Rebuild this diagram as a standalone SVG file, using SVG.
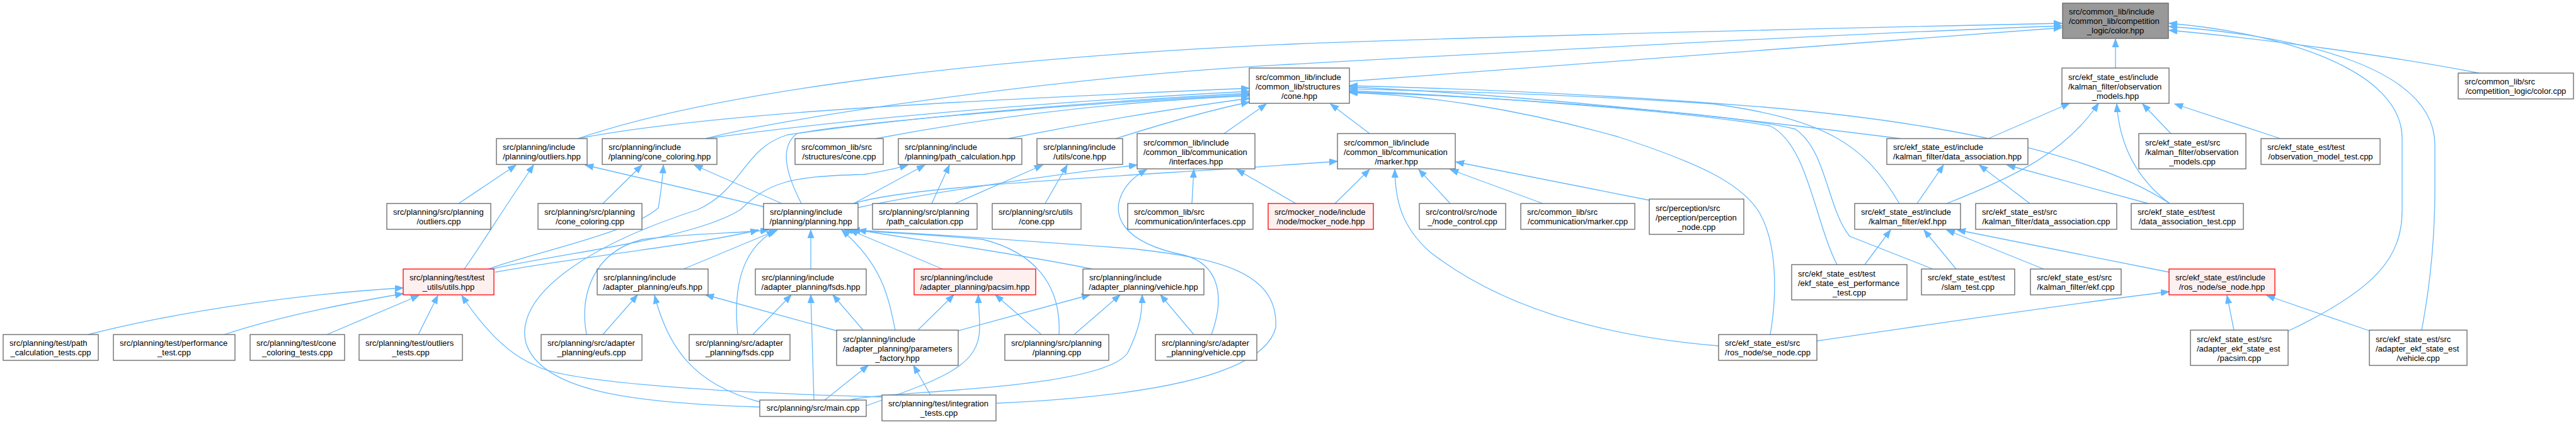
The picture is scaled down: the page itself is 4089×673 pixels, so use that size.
<svg xmlns="http://www.w3.org/2000/svg" width="4089" height="673" viewBox="0 0 4089 673">
<style>
rect{fill:#fff;stroke:#666;stroke-width:1.3}
.r rect{fill:#fff0f0;stroke:#f00}
.g rect{fill:#999}
text{font-family:"Liberation Sans",Arial,Helvetica,sans-serif;font-size:13px;fill:#000}
.m{text-anchor:middle}
#edges path{fill:none;stroke:#63b8ff;stroke-width:1.3;marker-end:url(#a)}
</style>
<defs><marker id="a" markerUnits="userSpaceOnUse" viewBox="0 0 14 11" markerWidth="14" markerHeight="11" refX="13" refY="5" orient="auto"><path d="M0,0 L13,5 L0,10 z" fill="#63b8ff" stroke="#63b8ff"/></marker></defs>
<rect x="0" y="0" width="4089" height="673" style="fill:#fff;stroke:none"/>
<g id="edges">
<path d="M3358,108 L3358,62"/>
<path d="M3935,116 C3800,90 3600,62 3443,48"/>
<path d="M3631,526 C3770,460 3813,410 3813,333 L3813,220 C3813,110 3620,52 3443,37"/>
<path d="M3844,524 C3858,450 3865,380 3865,300 L3865,230 C3865,110 3660,58 3443,42"/>
<path d="M2142,129 C2550,95 2950,65 3273,44"/>
<path d="M917,220 C1150,140 1600,90 2050,70 C2450,55 2900,45 3273,37"/>
<path d="M1120,220 C1250,185 1700,120 2050,102 C2450,80 2900,55 3273,41"/>
<path d="M917,220 C1100,185 1400,165 1983,140"/>
<path d="M1120,220 C1300,195 1600,165 1983,145"/>
<path d="M1390,220 C1600,180 1800,160 1983,152"/>
<path d="M1600,220 C1750,190 1880,170 1983,156"/>
<path d="M1771,220 C1850,195 1920,175 1983,162"/>
<path d="M1943,212 L2010,165"/>
<path d="M2174,212 L2112,165"/>
<path d="M1272,323 C1250,280 1235,235 1265,212 C1350,195 1700,165 1983,150"/>
<path d="M1206,646 C1000,640 860,620 835,545 C815,470 930,390 1107,333 C1180,300 1180,235 1250,214 C1450,185 1750,160 1983,148"/>
<path d="M3017,220 C2700,180 2400,150 2142,138"/>
<path d="M3015,323 C2960,230 2900,190 2720,165 C2500,150 2300,145 2142,141"/>
<path d="M3444,323 C3350,260 3150,200 2800,170 C2550,150 2300,140 2142,136"/>
<path d="M2916,420 C2880,350 2870,230 2810,200 C2700,180 2400,155 2142,144"/>
<path d="M3068,427 L2936,375 C2900,330 2900,240 2850,205 C2750,180 2400,155 2142,146"/>
<path d="M2810,531 C2822,460 2820,380 2790,333 C2760,290 2700,260 2568,217 C2400,170 2250,150 2142,147"/>
<path d="M3156,220 L3285,164"/>
<path d="M3090,323 C3200,280 3280,240 3331,164"/>
<path d="M3444,323 C3400,290 3365,240 3360,165"/>
<path d="M3446,212 L3401,165"/>
<path d="M3620,220 L3452,165"/>
<path d="M3043,323 L3085,262"/>
<path d="M3222,323 L3142,262"/>
<path d="M3410,323 L3186,262"/>
<path d="M2960,420 L3001,365"/>
<path d="M3105,427 L3054,365"/>
<path d="M3244,427 L3090,365"/>
<path d="M3443,432 L3107,365"/>
<path d="M2884,541 C3100,510 3300,480 3443,463"/>
<path d="M3546,524 L3535,469"/>
<path d="M3761,525 L3598,469"/>
<path d="M2119,323 L2174,269"/>
<path d="M2728,549 C2500,530 2360,470 2270,400 C2225,360 2215,320 2214,269"/>
<path d="M2302,323 L2252,269"/>
<path d="M2449,323 L2302,269"/>
<path d="M2619,318 L2311,257"/>
<path d="M1355,323 C1450,293 1800,280 2123,256"/>
<path d="M2057,323 L1963,269"/>
<path d="M1892,323 L1895,269"/>
<path d="M1923,531 C1945,470 1935,420 1880,405 C1780,385 1760,340 1785,300 C1795,285 1805,278 1820,269"/>
<path d="M1360,330 C1450,310 1650,280 1805,262"/>
<path d="M1479,323 L1507,262"/>
<path d="M1355,323 L1468,262"/>
<path d="M1659,323 L1694,262"/>
<path d="M1516,323 L1655,262"/>
<path d="M728,323 L819,262"/>
<path d="M737,427 C770,380 800,330 847,262"/>
<path d="M1212,328 L929,262"/>
<path d="M957,323 L1019,262"/>
<path d="M1241,323 L1102,262"/>
<path d="M775,427 C850,400 1000,370 1045,330 C1050,300 1052,280 1053,262"/>
<path d="M780,427 C900,400 1100,380 1175,333 C1220,290 1250,280 1370,277 C1400,272 1420,268 1441,262"/>
<path d="M786,432 C900,410 1100,390 1204,365"/>
<path d="M1085,427 L1234,365"/>
<path d="M1287,427 L1287,365"/>
<path d="M1496,427 L1349,365"/>
<path d="M1734,427 C1600,400 1450,380 1362,365"/>
<path d="M931,531 C920,470 940,400 1020,380 C1100,370 1180,370 1220,365"/>
<path d="M1171,531 C1165,470 1170,400 1230,366"/>
<path d="M1681,531 C1685,450 1640,400 1560,380 C1450,370 1380,368 1340,365"/>
<path d="M1421,524 C1410,470 1400,420 1336,365"/>
<path d="M1582,640 C1800,630 2005,600 2025,520 C2030,430 1930,410 1800,395 C1600,380 1450,370 1352,365"/>
<path d="M957,531 L1012,468"/>
<path d="M1206,638 C1100,610 1060,550 1039,469"/>
<path d="M1328,525 L1120,468"/>
<path d="M1195,531 L1256,468"/>
<path d="M1292,635 L1287,468"/>
<path d="M1370,524 L1322,468"/>
<path d="M1457,524 L1514,468"/>
<path d="M1375,644 C1500,600 1555,580 1555,520 C1555,500 1553,485 1553,468"/>
<path d="M1653,531 L1580,468"/>
<path d="M1521,525 L1730,468"/>
<path d="M1705,531 L1778,468"/>
<path d="M1349,635 C1400,620 1750,620 1790,560 C1810,520 1813,495 1813,468"/>
<path d="M1895,531 L1842,468"/>
<path d="M1309,635 L1378,580"/>
<path d="M1477,627 L1450,580"/>
<path d="M140,531 C300,490 500,465 640,457"/>
<path d="M356,531 C450,500 560,480 640,466"/>
<path d="M519,531 L665,469"/>
<path d="M664,531 L695,469"/>
<path d="M1400,630 C1200,625 900,610 850,580 C800,560 760,510 733,469"/>
</g>
<g id="n0" class="g"><rect x="3274" y="5" width="168" height="56"/><text x="3284" y="23">src/common_lib/include</text><text x="3284" y="38">/common_lib/competition</text><text class="m" x="3358" y="53">_logic/color.hpp</text></g>
<g id="n1"><rect x="3273" y="108" width="170" height="56"/><text x="3283" y="127">src/ekf_state_est/include</text><text x="3283" y="142">/kalman_filter/observation</text><text class="m" x="3358" y="157">_models.hpp</text></g>
<g id="n2"><rect x="3902" y="116" width="183" height="41"/><text x="3912" y="134">src/common_lib/src</text><text class="m" x="3993.5" y="149">/competition_logic/color.cpp</text></g>
<g id="n3"><rect x="1983" y="108" width="159" height="56"/><text x="1993" y="127">src/common_lib/include</text><text x="1993" y="142">/common_lib/structures</text><text class="m" x="2062.5" y="157">/cone.hpp</text></g>
<g id="n4"><rect x="788" y="220" width="144" height="41"/><text x="798" y="238">src/planning/include</text><text class="m" x="860" y="253">/planning/outliers.hpp</text></g>
<g id="n5"><rect x="956" y="220" width="182" height="41"/><text x="966" y="238">src/planning/include</text><text class="m" x="1047" y="253">/planning/cone_coloring.hpp</text></g>
<g id="n6"><rect x="1262" y="220" width="140" height="41"/><text x="1272" y="238">src/common_lib/src</text><text class="m" x="1332" y="253">/structures/cone.cpp</text></g>
<g id="n7"><rect x="1426" y="220" width="196" height="41"/><text x="1436" y="238">src/planning/include</text><text class="m" x="1524" y="253">/planning/path_calculation.hpp</text></g>
<g id="n8"><rect x="1646" y="220" width="136" height="41"/><text x="1656" y="238">src/planning/include</text><text class="m" x="1714" y="253">/utils/cone.hpp</text></g>
<g id="n9"><rect x="1805" y="212" width="187" height="56"/><text x="1815" y="231">src/common_lib/include</text><text x="1815" y="246">/common_lib/communication</text><text class="m" x="1898.5" y="261">/interfaces.hpp</text></g>
<g id="n10"><rect x="2123" y="212" width="187" height="56"/><text x="2133" y="231">src/common_lib/include</text><text x="2133" y="246">/common_lib/communication</text><text class="m" x="2216.5" y="261">/marker.hpp</text></g>
<g id="n11"><rect x="2995" y="220" width="224" height="41"/><text x="3005" y="238">src/ekf_state_est/include</text><text class="m" x="3107" y="253">/kalman_filter/data_association.hpp</text></g>
<g id="n12"><rect x="3395" y="212" width="170" height="56"/><text x="3405" y="231">src/ekf_state_est/src</text><text x="3405" y="246">/kalman_filter/observation</text><text class="m" x="3480" y="261">_models.cpp</text></g>
<g id="n13"><rect x="3589" y="220" width="189" height="41"/><text x="3599" y="238">src/ekf_state_est/test</text><text class="m" x="3683.5" y="253">/observation_model_test.cpp</text></g>
<g id="n14"><rect x="614" y="323" width="165" height="41"/><text x="624" y="341">src/planning/src/planning</text><text class="m" x="696.5" y="356">/outliers.cpp</text></g>
<g id="n15"><rect x="854" y="323" width="165" height="41"/><text x="864" y="341">src/planning/src/planning</text><text class="m" x="936.5" y="356">/cone_coloring.cpp</text></g>
<g id="n16"><rect x="1212" y="323" width="150" height="41"/><text x="1222" y="341">src/planning/include</text><text class="m" x="1287" y="356">/planning/planning.hpp</text></g>
<g id="n17"><rect x="1385" y="323" width="166" height="41"/><text x="1395" y="341">src/planning/src/planning</text><text class="m" x="1468" y="356">/path_calculation.cpp</text></g>
<g id="n18"><rect x="1575" y="323" width="141" height="41"/><text x="1585" y="341">src/planning/src/utils</text><text class="m" x="1645.5" y="356">/cone.cpp</text></g>
<g id="n19"><rect x="1790" y="323" width="199" height="41"/><text x="1800" y="341">src/common_lib/src</text><text class="m" x="1889.5" y="356">/communication/interfaces.cpp</text></g>
<g id="n20" class="r"><rect x="2013" y="323" width="167" height="41"/><text x="2023" y="341">src/mocker_node/include</text><text class="m" x="2096.5" y="356">/node/mocker_node.hpp</text></g>
<g id="n21"><rect x="2253" y="323" width="137" height="41"/><text x="2263" y="341">src/control/src/node</text><text class="m" x="2321.5" y="356">_/node_control.cpp</text></g>
<g id="n22"><rect x="2414" y="323" width="181" height="41"/><text x="2424" y="341">src/common_lib/src</text><text class="m" x="2504.5" y="356">/communication/marker.cpp</text></g>
<g id="n23"><rect x="2618" y="316" width="150" height="56"/><text x="2628" y="335">src/perception/src</text><text x="2628" y="350">/perception/perception</text><text class="m" x="2693" y="365">_node.cpp</text></g>
<g id="n24"><rect x="2944" y="323" width="168" height="41"/><text x="2954" y="341">src/ekf_state_est/include</text><text class="m" x="3028" y="356">/kalman_filter/ekf.hpp</text></g>
<g id="n25"><rect x="3136" y="323" width="224" height="41"/><text x="3146" y="341">src/ekf_state_est/src</text><text class="m" x="3248" y="356">/kalman_filter/data_association.cpp</text></g>
<g id="n26"><rect x="3383" y="323" width="178" height="41"/><text x="3393" y="341">src/ekf_state_est/test</text><text class="m" x="3472" y="356">/data_association_test.cpp</text></g>
<g id="n27" class="r"><rect x="640" y="427" width="144" height="41"/><text x="650" y="445">src/planning/test/test</text><text class="m" x="712" y="460">_utils/utils.hpp</text></g>
<g id="n28"><rect x="948" y="427" width="176" height="41"/><text x="958" y="445">src/planning/include</text><text class="m" x="1036" y="460">/adapter_planning/eufs.hpp</text></g>
<g id="n29"><rect x="1199" y="427" width="176" height="41"/><text x="1209" y="445">src/planning/include</text><text class="m" x="1287" y="460">/adapter_planning/fsds.hpp</text></g>
<g id="n30" class="r"><rect x="1451" y="427" width="193" height="41"/><text x="1461" y="445">src/planning/include</text><text class="m" x="1547.5" y="460">/adapter_planning/pacsim.hpp</text></g>
<g id="n31"><rect x="1719" y="427" width="192" height="41"/><text x="1729" y="445">src/planning/include</text><text class="m" x="1815" y="460">/adapter_planning/vehicle.hpp</text></g>
<g id="n32"><rect x="2844" y="420" width="183" height="56"/><text x="2854" y="439">src/ekf_state_est/test</text><text x="2854" y="454">/ekf_state_est_performance</text><text class="m" x="2935.5" y="469">_test.cpp</text></g>
<g id="n33"><rect x="3050" y="427" width="148" height="41"/><text x="3060" y="445">src/ekf_state_est/test</text><text class="m" x="3124" y="460">/slam_test.cpp</text></g>
<g id="n34"><rect x="3223" y="427" width="144" height="41"/><text x="3233" y="445">src/ekf_state_est/src</text><text class="m" x="3295" y="460">/kalman_filter/ekf.cpp</text></g>
<g id="n35" class="r"><rect x="3443" y="427" width="168" height="41"/><text x="3453" y="445">src/ekf_state_est/include</text><text class="m" x="3527" y="460">/ros_node/se_node.hpp</text></g>
<g id="n36"><rect x="5" y="531" width="151" height="41"/><text x="15" y="549">src/planning/test/path</text><text class="m" x="80.5" y="564">_calculation_tests.cpp</text></g>
<g id="n37"><rect x="180" y="531" width="193" height="41"/><text x="190" y="549">src/planning/test/performance</text><text class="m" x="276.5" y="564">_test.cpp</text></g>
<g id="n38"><rect x="397" y="531" width="150" height="41"/><text x="407" y="549">src/planning/test/cone</text><text class="m" x="472" y="564">_coloring_tests.cpp</text></g>
<g id="n39"><rect x="570" y="531" width="164" height="41"/><text x="580" y="549">src/planning/test/outliers</text><text class="m" x="652" y="564">_tests.cpp</text></g>
<g id="n40"><rect x="859" y="531" width="160" height="41"/><text x="869" y="549">src/planning/src/adapter</text><text class="m" x="939" y="564">_planning/eufs.cpp</text></g>
<g id="n41"><rect x="1094" y="531" width="160" height="41"/><text x="1104" y="549">src/planning/src/adapter</text><text class="m" x="1174" y="564">_planning/fsds.cpp</text></g>
<g id="n42"><rect x="1328" y="524" width="193" height="56"/><text x="1338" y="543">src/planning/include</text><text x="1338" y="558">/adapter_planning/parameters</text><text class="m" x="1424.5" y="573">_factory.hpp</text></g>
<g id="n43"><rect x="1595" y="531" width="165" height="41"/><text x="1605" y="549">src/planning/src/planning</text><text class="m" x="1677.5" y="564">/planning.cpp</text></g>
<g id="n44"><rect x="1834" y="531" width="161" height="41"/><text x="1844" y="549">src/planning/src/adapter</text><text class="m" x="1914.5" y="564">_planning/vehicle.cpp</text></g>
<g id="n45"><rect x="2728" y="531" width="156" height="41"/><text x="2738" y="549">src/ekf_state_est/src</text><text class="m" x="2806" y="564">/ros_node/se_node.cpp</text></g>
<g id="n46"><rect x="3477" y="524" width="155" height="56"/><text x="3487" y="543">src/ekf_state_est/src</text><text x="3487" y="558">/adapter_ekf_state_est</text><text class="m" x="3554.5" y="573">/pacsim.cpp</text></g>
<g id="n47"><rect x="3761" y="524" width="155" height="56"/><text x="3771" y="543">src/ekf_state_est/src</text><text x="3771" y="558">/adapter_ekf_state_est</text><text class="m" x="3838.5" y="573">/vehicle.cpp</text></g>
<g id="n48"><rect x="1206" y="635" width="169" height="26"/><text class="m" x="1290.5" y="652">src/planning/src/main.cpp</text></g>
<g id="n49"><rect x="1400" y="627" width="181" height="41"/><text x="1410" y="645">src/planning/test/integration</text><text class="m" x="1490.5" y="660">_tests.cpp</text></g>
</svg>
